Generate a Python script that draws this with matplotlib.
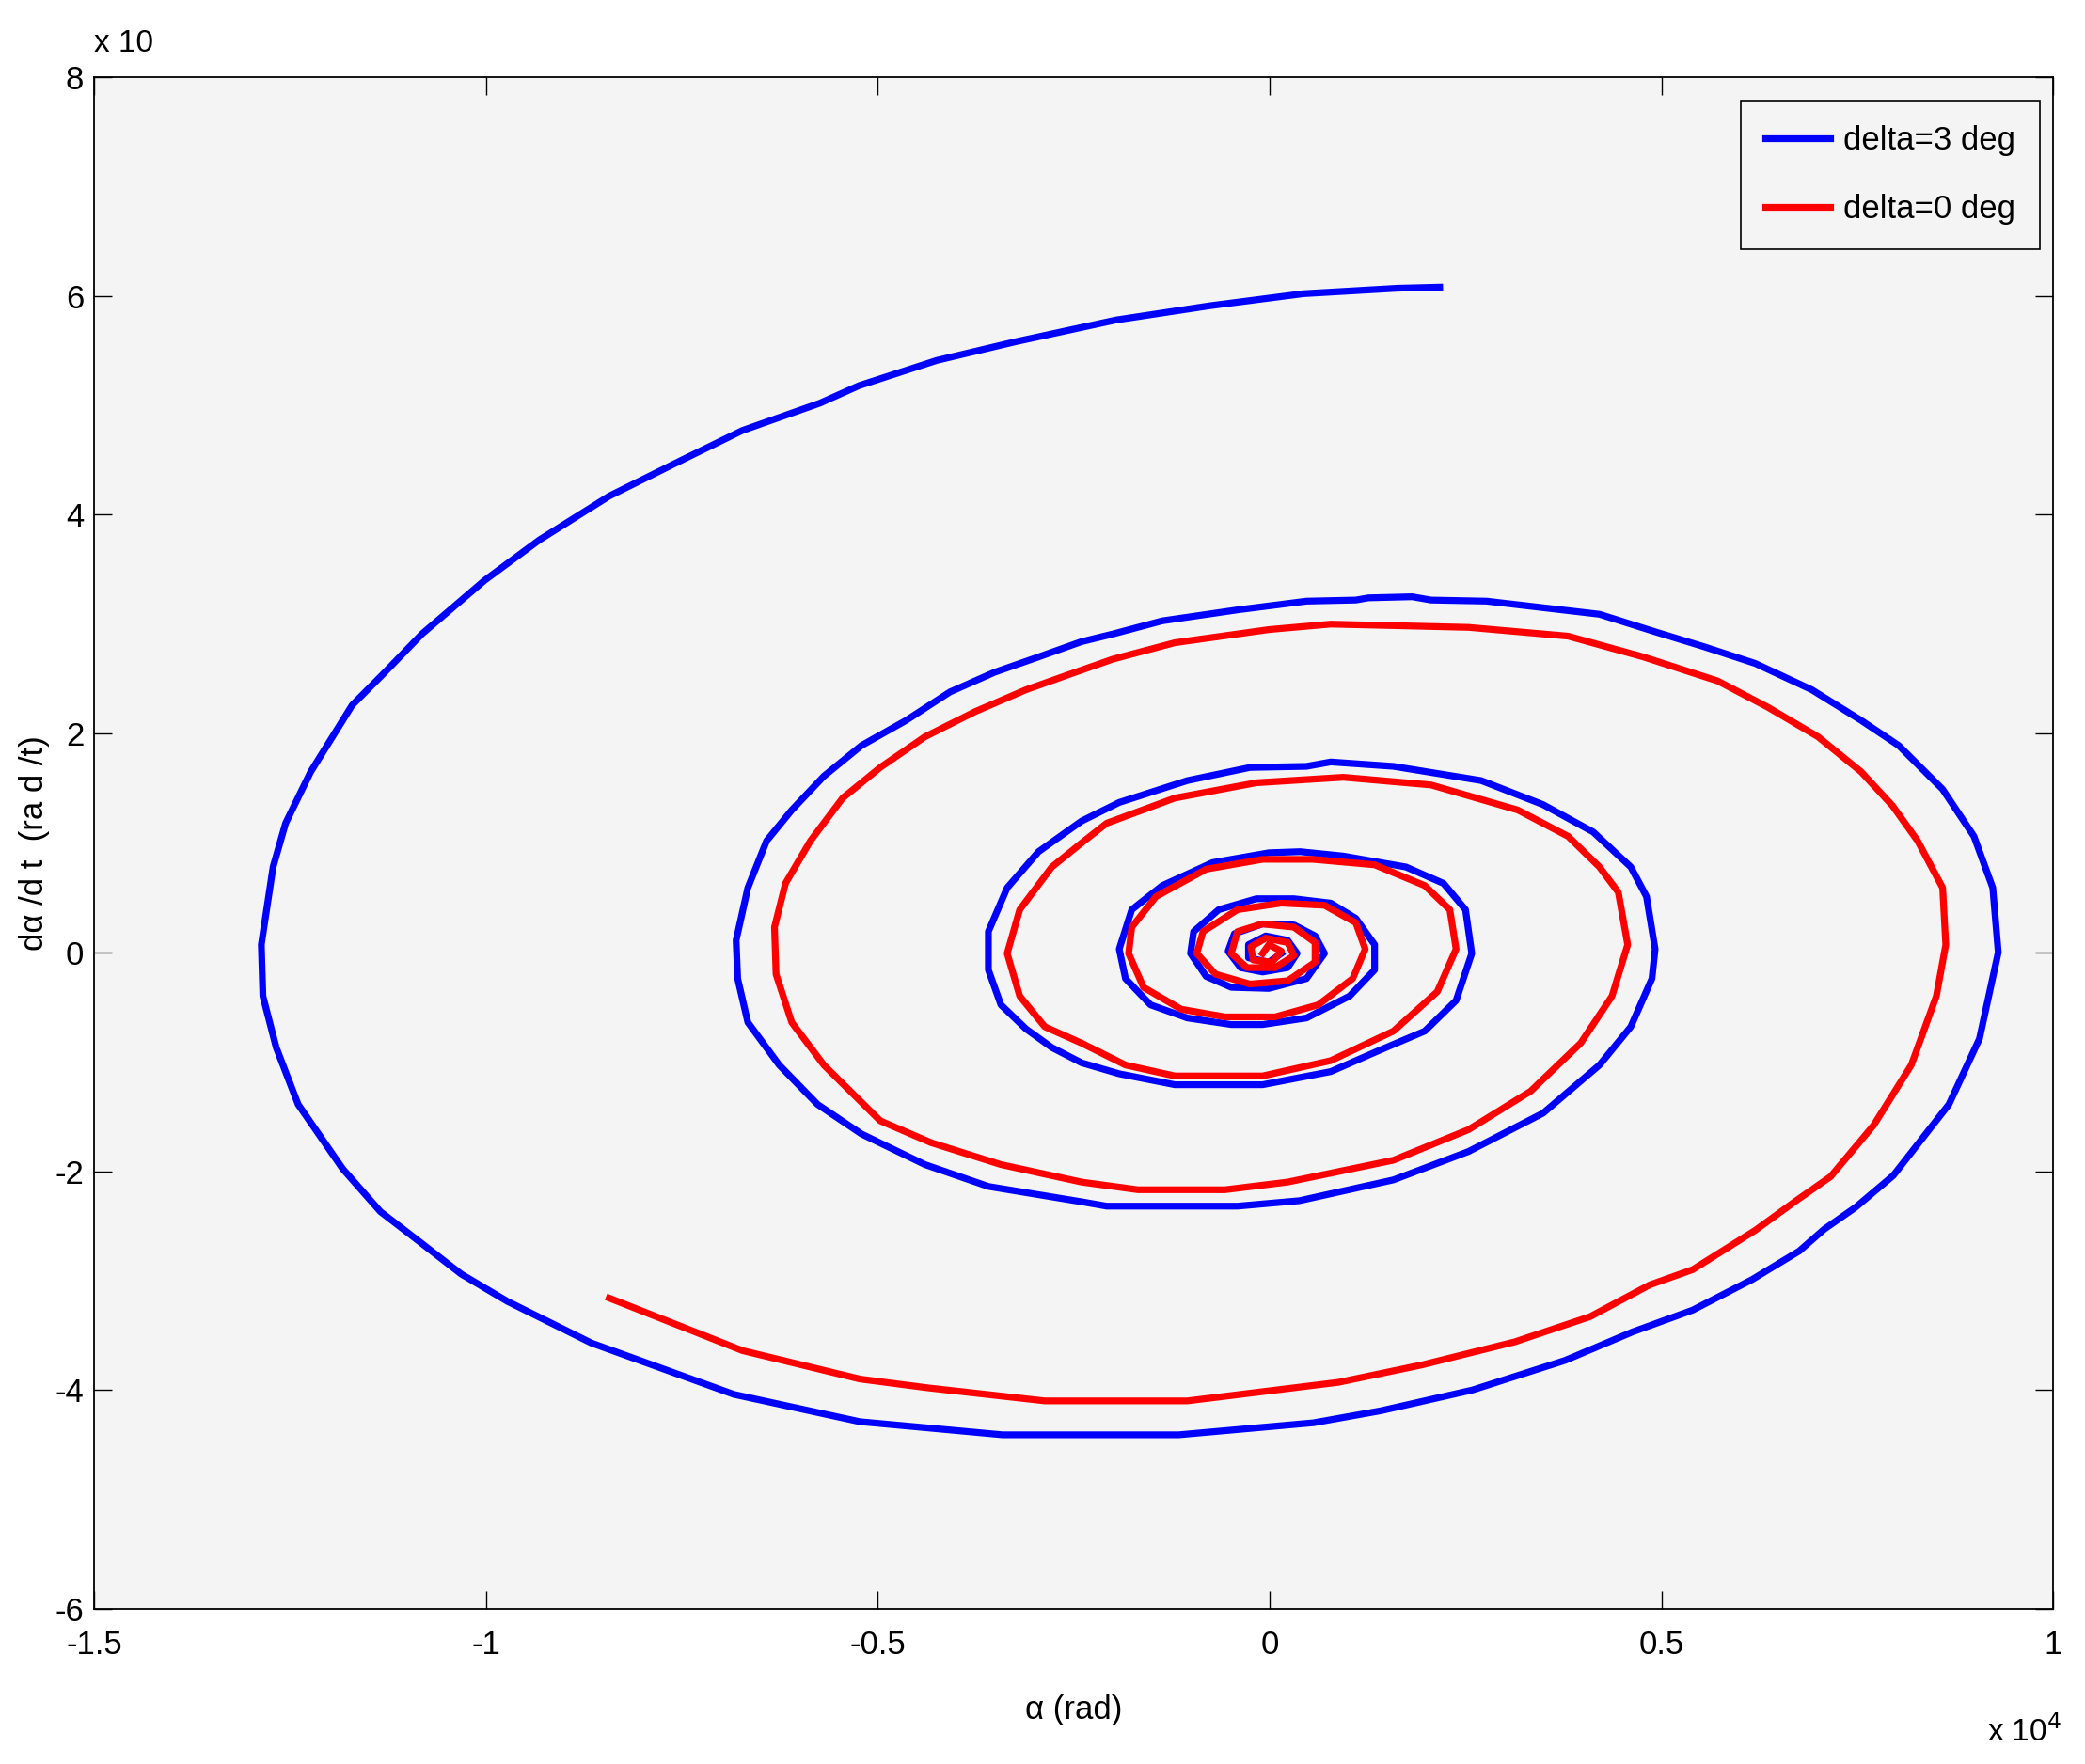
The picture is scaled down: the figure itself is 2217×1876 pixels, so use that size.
import matplotlib
matplotlib.use("Agg")
import numpy as np
from matplotlib import pyplot as plt
from matplotlib import font_manager

# pick a narrow sans if it is there
font = "Liberation Sans"
try:
    font_manager.findfont("Liberation Sans Narrow", fallback_to_default=False)
    font = "Liberation Sans Narrow"
except Exception:
    pass
plt.rcParams["font.family"] = [font, "DejaVu Sans"]
plt.rcParams["axes.unicode_minus"] = False

# phase portrait, alpha in units of 1e4 rad, d(alpha)/dt in tick units
blue_x = [0.217, 0.163, 0.043, -0.076, -0.196, -0.325, -0.425, -0.524, -0.574, -0.673, -0.753, -0.843,
          -0.932, -1.002, -1.082, -1.132, -1.171, -1.224, -1.256, -1.272, -1.287, -1.285, -1.268, -1.240,
          -1.183, -1.135, -1.086, -1.032, -0.973, -0.866, -0.684, -0.523, -0.341, -0.116, 0.056, 0.142,
          0.259, 0.377, 0.463, 0.540, 0.616, 0.676, 0.708, 0.748, 0.796, 0.867, 0.906, 0.930, 0.923,
          0.899, 0.859, 0.803, 0.755, 0.692, 0.620, 0.556, 0.492, 0.421, 0.277, 0.206, 0.182, 0.126,
          0.110, 0.047, -0.041, -0.137, -0.200, -0.240, -0.295, -0.351, -0.408, -0.464, -0.521, -0.569,
          -0.610, -0.642, -0.666, -0.681, -0.679, -0.666, -0.626, -0.577, -0.521, -0.440, -0.359, -0.240,
          -0.208, -0.041, 0.038, 0.158, 0.254, 0.349, 0.421, 0.461, 0.488, 0.492, 0.481, 0.461, 0.413,
          0.349, 0.270, 0.158, 0.078, 0.047, -0.025, -0.105, -0.192, -0.240, -0.295, -0.335, -0.359,
          -0.359, -0.343, -0.311, -0.278, -0.240, -0.192, -0.121, -0.009, 0.078, 0.142, 0.198, 0.238,
          0.258, 0.250, 0.222, 0.174, 0.094, 0.039, -0.001, -0.073, -0.137, -0.176, -0.192, -0.184,
          -0.152, -0.105, -0.049, -0.009, 0.047, 0.102, 0.134, 0.134, 0.110, 0.078, 0.031, -0.017,
          -0.065, -0.097, -0.101, -0.081, -0.049, -0.001, 0.047, 0.070, 0.058, 0.031, -0.009, -0.045,
          -0.053, -0.037, -0.009, 0.023, 0.035, 0.023, -0.005, -0.027, -0.027, -0.001, 0.015]
blue_y = [6.08, 6.07, 6.02, 5.91, 5.78, 5.58, 5.41, 5.18, 5.02, 4.77, 4.49, 4.17,
          3.77, 3.40, 2.91, 2.54, 2.26, 1.65, 1.18, 0.78, 0.07, -0.40, -0.87, -1.39,
          -1.98, -2.37, -2.64, -2.94, -3.19, -3.57, -4.04, -4.29, -4.41, -4.41, -4.30, -4.19,
          -4.00, -3.73, -3.47, -3.27, -2.99, -2.73, -2.53, -2.33, -2.04, -1.39, -0.79, 0.00, 0.59,
          1.06, 1.49, 1.89, 2.12, 2.40, 2.64, 2.79, 2.93, 3.09, 3.21, 3.22, 3.25, 3.24,
          3.22, 3.21, 3.13, 3.03, 2.91, 2.84, 2.70, 2.56, 2.38, 2.12, 1.89, 1.61,
          1.30, 1.02, 0.59, 0.11, -0.24, -0.64, -1.03, -1.39, -1.66, -1.94, -2.14, -2.28,
          -2.32, -2.32, -2.27, -2.08, -1.82, -1.47, -1.03, -0.68, -0.24, 0.03, 0.51, 0.78, 1.10,
          1.35, 1.57, 1.70, 1.74, 1.70, 1.69, 1.57, 1.37, 1.20, 0.92, 0.59, 0.19,
          -0.16, -0.48, -0.70, -0.87, -1.01, -1.11, -1.21, -1.21, -1.09, -0.89, -0.72, -0.44,
          -0.01, 0.39, 0.63, 0.78, 0.88, 0.92, 0.91, 0.82, 0.61, 0.39, 0.03, -0.24,
          -0.48, -0.60, -0.66, -0.66, -0.60, -0.40, -0.16, 0.07, 0.31, 0.45, 0.49, 0.49,
          0.39, 0.19, -0.01, -0.22, -0.32, -0.33, -0.24, -0.01, 0.15, 0.25, 0.26, 0.17,
          0.01, -0.14, -0.18, -0.14, -0.01, 0.11, 0.15, 0.07, -0.05, -0.09, -0.01]

red_x = [-0.843, -0.673, -0.523, -0.437, -0.287, -0.105, 0.088, 0.195, 0.313, 0.409, 0.485, 0.540,
         0.620, 0.672, 0.716, 0.771, 0.819, 0.851, 0.863, 0.859, 0.827, 0.795, 0.755, 0.700, 0.636,
         0.572, 0.477, 0.381, 0.254, 0.078, -0.001, -0.121, -0.200, -0.240, -0.311, -0.376, -0.440,
         -0.497, -0.545, -0.586, -0.618, -0.632, -0.630, -0.610, -0.569, -0.497, -0.432, -0.343, -0.240,
         -0.168, -0.057, 0.023, 0.158, 0.254, 0.333, 0.397, 0.437, 0.457, 0.445, 0.421, 0.381, 0.317,
         0.206, 0.094, -0.017, -0.121, -0.208, -0.240, -0.278, -0.319, -0.335, -0.319, -0.287, -0.240,
         -0.184, -0.121, -0.009, 0.078, 0.158, 0.214, 0.238, 0.230, 0.198, 0.134, 0.055, -0.009,
         -0.081, -0.145, -0.176, -0.180, -0.161, -0.113, -0.057, 0.007, 0.062, 0.106, 0.122, 0.110,
         0.070, 0.015, -0.041, -0.085, -0.093, -0.069, -0.025, 0.023, 0.058, 0.058, 0.031, -0.009,
         -0.041, -0.049, -0.029, 0.007, 0.031, 0.023, -0.005, -0.024, -0.021, 0.003, 0.015, -0.001, -0.009]
red_y = [-3.16, -3.64, -3.90, -3.98, -4.10, -4.10, -3.93, -3.77, -3.56, -3.33, -3.04, -2.90,
         -2.54, -2.27, -2.05, -1.58, -1.03, -0.40, 0.07, 0.59, 1.02, 1.34, 1.65, 1.97, 2.24,
         2.48, 2.70, 2.89, 2.97, 3.00, 2.95, 2.83, 2.68, 2.58, 2.40, 2.20, 1.97,
         1.69, 1.41, 1.02, 0.63, 0.23, -0.20, -0.64, -1.03, -1.54, -1.74, -1.94, -2.10,
         -2.17, -2.17, -2.10, -1.90, -1.62, -1.27, -0.83, -0.40, 0.07, 0.55, 0.78, 1.06, 1.30,
         1.53, 1.60, 1.55, 1.41, 1.18, 1.00, 0.78, 0.39, -0.01, -0.40, -0.68, -0.83,
         -1.03, -1.13, -1.13, -0.99, -0.72, -0.36, 0.03, 0.39, 0.61, 0.80, 0.85, 0.85,
         0.76, 0.51, 0.23, -0.01, -0.32, -0.52, -0.59, -0.59, -0.48, -0.24, 0.03, 0.27,
         0.43, 0.45, 0.39, 0.19, -0.01, -0.20, -0.29, -0.26, -0.09, 0.09, 0.23, 0.26,
         0.19, -0.01, -0.14, -0.14, -0.03, 0.09, 0.13, 0.05, -0.07, -0.09, 0.01, 0.07, -0.01]

x_ticks = [-1.5, -1, -0.5, 0, 0.5, 1]
x_tick_labels = ["-1.5", "-1", "-0.5", "0", "0.5", "1"]
y_ticks = [-6, -4, -2, 0, 2, 4, 6, 8]

fig = plt.figure(figsize=(22.17, 18.76), dpi=100)
ax = fig.add_axes([0.0453, 0.0880, 0.9394, 0.8683])
ax.set_facecolor("#f4f4f4")

ax.plot(blue_x, blue_y, color="#0000ff", lw=5.2, label="delta=3 deg")
ax.plot(red_x, red_y, color="#ff0000", lw=5.2, label="delta=0 deg")

ax.set_xlim(-1.5, 1)
ax.set_ylim(-6, 8)
ax.set_xticks(x_ticks)
ax.set_xticklabels(x_tick_labels)
ax.set_yticks(y_ticks)
ax.tick_params(direction="in", length=14, width=1.0, top=True, right=True, labelsize=25, color="k")
ax.tick_params(axis="x", pad=16)
ax.tick_params(axis="y", pad=8)
for s in ax.spines.values():
    s.set_linewidth(1.3)
    s.set_color("k")

ax.set_xlabel("α (rad)", fontsize=25, labelpad=26)
ax.set_ylabel("dα /d t  (ra d /t)", fontsize=25, labelpad=4)

# exponent labels, MATLAB style
fig.text(100 / 2217, 1 - 55 / 1876, "x 10", fontsize=24, ha="left", va="baseline")
fig.text(2113 / 2217, 1 - 1852 / 1876, r"x 10$^{4}$", fontsize=24, ha="left", va="baseline")

leg = ax.legend(loc="upper right", bbox_to_anchor=(1 - 14 / 2082, 1 - 25 / 1629), fontsize=25,
                handlelength=2.0, handletextpad=0.4, borderaxespad=0, labelspacing=1.15,
                fancybox=False, framealpha=1, borderpad=0.75)
leg.get_frame().set_edgecolor("k")
leg.get_frame().set_facecolor("#f4f4f4")
leg.get_frame().set_linewidth(1.2)

plt.savefig("out.png", dpi=100)
